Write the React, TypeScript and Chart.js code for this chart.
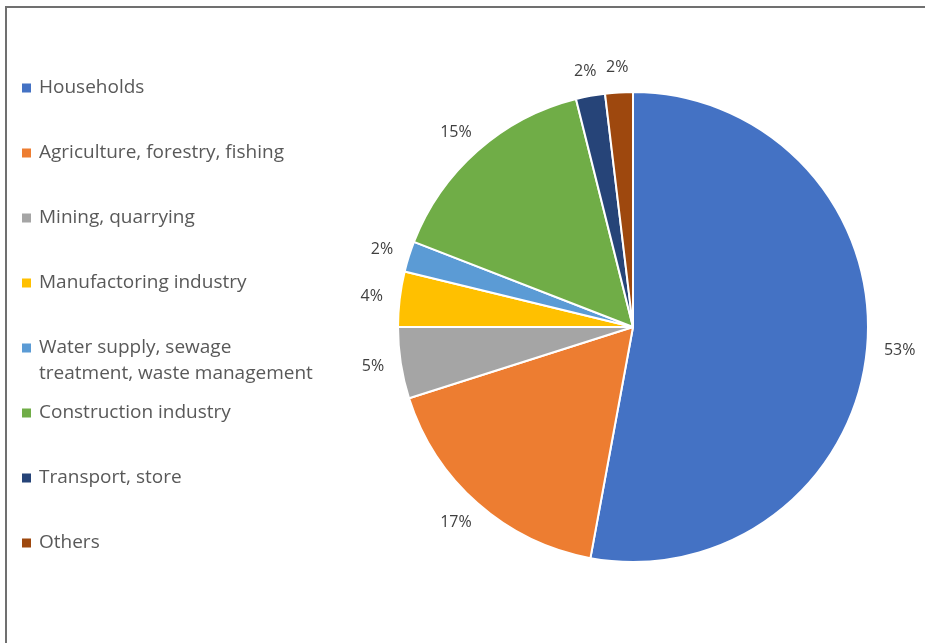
import React, { useEffect, useRef } from "react";
import { Chart, registerables } from "chart.js";

Chart.register(...registerables);

const categories = [
  "Households",
  "Agriculture, forestry, fishing",
  "Mining, quarrying",
  "Manufactoring industry",
  "Water supply, sewage treatment, waste management",
  "Construction industry",
  "Transport, store",
  "Others",
];

const legendLines = [
  ["Households"],
  ["Agriculture, forestry, fishing"],
  ["Mining, quarrying"],
  ["Manufactoring industry"],
  ["Water supply, sewage", "treatment, waste management"],
  ["Construction industry"],
  ["Transport, store"],
  ["Others"],
];

const shares = [52.9, 17.2, 4.9, 3.8, 2.1, 15.2, 2.0, 1.9];

const colors = [
  "#4472C4",
  "#ED7D31",
  "#A5A5A5",
  "#FFC000",
  "#5B9BD5",
  "#70AD47",
  "#264478",
  "#9E480E",
];

const decorPlugin = {
  id: "decor",
  beforeDraw(chart: any) {
    const ctx = chart.ctx;
    ctx.save();
    ctx.fillStyle = "#ffffff";
    ctx.fillRect(0, 0, chart.width, chart.height);
    ctx.strokeStyle = "#707070";
    ctx.lineWidth = 2;
    ctx.beginPath();
    ctx.moveTo(6, chart.height);
    ctx.lineTo(6, 7);
    ctx.lineTo(chart.width, 7);
    ctx.stroke();
    ctx.restore();
  },
  afterDraw(chart: any) {
    const ctx = chart.ctx;
    const bg = chart.data.datasets[0].backgroundColor;
    ctx.save();
    ctx.font = "19px 'Open Sans'";
    ctx.textBaseline = "middle";
    ctx.textAlign = "left";
    legendLines.forEach((lines, i) => {
      const y = 88 + 65 * i;
      ctx.fillStyle = bg[i];
      ctx.fillRect(22, y - 4.5, 9, 9);
      ctx.fillStyle = "#595959";
      lines.forEach((t, j) => ctx.fillText(t, 39, y + j * 26));
    });
    const meta = chart.getDatasetMeta(0);
    ctx.font = "16px 'Open Sans'";
    ctx.fillStyle = "#404040";
    ctx.textAlign = "center";
    meta.data.forEach((arc: any, i: number) => {
      const p = arc.getProps(["x", "y", "startAngle", "endAngle", "outerRadius"], true);
      const mid = (p.startAngle + p.endAngle) / 2;
      const text = Math.round(shares[i]) + "%";
      const halfW = ctx.measureText(text).width / 2;
      const halfH = 8;
      const cx = Math.cos(mid);
      const cy = Math.sin(mid);
      const d = p.outerRadius + 17;
      ctx.fillText(text, p.x + cx * (d + halfW), p.y + cy * d + cy * halfH);
    });
    ctx.restore();
  },
};

export default function App() {
  const ref = useRef<HTMLCanvasElement | null>(null);
  useEffect(() => {
    if (!ref.current) return;
    const chart = new Chart(ref.current, {
      type: "pie",
      data: {
        labels: categories,
        datasets: [
          {
            data: shares,
            backgroundColor: colors,
            borderColor: "#ffffff",
            borderWidth: 2,
          },
        ],
      },
      options: {
        responsive: false,
        animation: false,
        layout: { padding: { left: 397, right: 56, top: 91, bottom: 80 } },
        plugins: {
          legend: { display: false },
          tooltip: { enabled: false },
        },
      },
      plugins: [decorPlugin],
    });
    return () => chart.destroy();
  }, []);
  return (
    <div style={{ position: "absolute", left: 0, top: 0, width: 925, height: 643 }}>
      <canvas ref={ref} width={925} height={643} style={{ display: "block" }} />
    </div>
  );
}
